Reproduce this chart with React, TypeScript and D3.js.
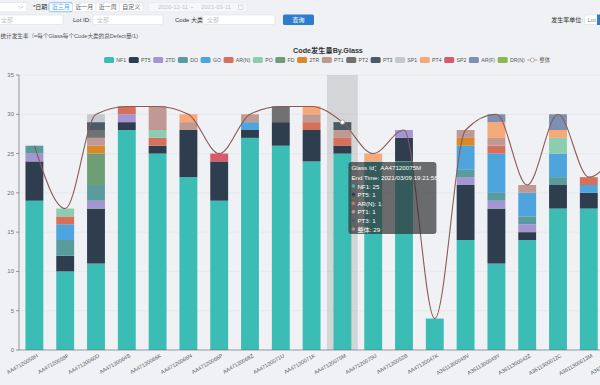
import React, { useEffect, useRef } from "react";
import * as d3 from "d3";

// glass ids on the x axis (last one runs past the right edge)
const glassIds = [
  "AA47120059H", "AA47120059F", "AA47120060D", "AA47120064S", "AA47120066K",
  "AA47120066N", "AA47120066P", "AA47120068Z", "AA47120071U", "AA47120071K",
  "AA47120075M", "AA47120075U", "AA47120052B", "AA47120047K", "A3611300049V",
  "A3611300049Y", "A3611300042Z", "A3611300012C", "A3611300013M", "A3611300014K",
];

const codeNames = ["NF1", "PT5", "2TD", "DO", "GO", "AR(N)", "PO", "FD", "2TR", "PT1", "PT2", "PT3", "SP1", "PT4", "SP2", "AR(F)", "DR(N)"];
const codeColors = ["#3bbdb6", "#2f3e4f", "#a695d3", "#5a9c9d", "#4ea4dd", "#d4705b", "#8ccdb0", "#6d9e76", "#d88a2a", "#c09a92", "#6f7173", "#4c5a68", "#c4c9cf", "#f5a878", "#d75b6a", "#7d8fb3", "#88b84f"];

const nf1 = [19, 10, 11, 28, 25, 22, 19, 27, 26, 24, 25, 24, 24, 4, 14, 11, 14, 18, 18, 20];
const pt5 = [5, 2, 7, 1, 1, 6, 5, 1, 3, 4, 1, 0, 3, 0, 7, 7, 1, 3, 2, 4];
const td2 = [1, 0, 1, 1, 0, 0, 0, 0, 0, 0, 0, 0, 1, 0, 1, 1, 1, 0, 0, 0];
const doV = [1, 2, 2, 0, 0, 0, 0, 0, 0, 0, 0, 0, 0, 0, 1, 1, 1, 1, 0, 0];
const go = [0, 2, 0, 0, 0, 0, 0, 1, 0, 0, 0, 0, 0, 0, 3, 5, 3, 3, 1, 2];
const arN = [0, 1, 0, 1, 1, 0, 0, 0, 0, 1, 1, 0, 0, 0, 0, 1, 0, 0, 1, 0];
const po = [0, 1, 0, 0, 1, 0, 0, 0, 0, 0, 0, 0, 0, 0, 0, 0, 0, 2, 0, 0];
const fd = [0, 0, 4, 0, 0, 0, 0, 0, 0, 0, 0, 0, 0, 0, 0, 0, 0, 0, 0, 0];
const tr2 = [0, 0, 1, 0, 0, 0, 0, 0, 0, 0, 0, 0, 0, 0, 1, 0, 0, 0, 0, 0];
const pt1 = [0, 0, 1, 0, 3, 1, 0, 1, 0, 1, 1, 0, 0, 0, 1, 1, 1, 0, 0, 0];
const pt2 = [0, 0, 1, 0, 0, 0, 0, 0, 2, 0, 0, 0, 0, 0, 0, 0, 0, 0, 0, 0];
const pt3 = [0, 0, 1, 0, 0, 0, 0, 0, 0, 0, 1, 0, 0, 0, 0, 0, 0, 0, 0, 0];
const sp1 = [0, 0, 1, 0, 0, 0, 0, 0, 0, 0, 0, 0, 0, 0, 0, 0, 0, 0, 0, 0];
const pt4 = [0, 0, 0, 0, 0, 1, 0, 0, 0, 1, 0, 1, 0, 0, 0, 2, 0, 1, 0, 0];
const sp2 = [0, 0, 0, 0, 0, 0, 1, 0, 0, 0, 0, 0, 0, 0, 0, 0, 0, 0, 0, 0];
const arF = [0, 0, 0, 0, 0, 0, 0, 0, 0, 0, 0, 0, 0, 0, 0, 1, 0, 2, 0, 0];
const drN = [0, 0, 0, 0, 0, 0, 0, 0, 0, 0, 0, 0, 0, 0, 0, 0, 0, 0, 0, 0];
const codeValues = [nf1, pt5, td2, doV, go, arN, po, fd, tr2, pt1, pt2, pt3, sp1, pt4, sp2, arF, drN];

const yTicks = [0, 5, 10, 15, 20, 25, 30, 35];
const hoverIndex = 10;
const hoverEndTime = "2021/03/09 19:21:56";

const FONT = "'Liberation Sans', 'Noto Sans CJK SC', sans-serif";
const BG = "#eff1f4";
const LINE = "#8b5a55";

const App = () => {
  const svgRef = useRef<SVGSVGElement>(null);

  useEffect(() => {
    const svg = d3.select(svgRef.current);
    svg.selectAll("*").remove();
    svg.append("rect").attr("width", 600).attr("height", 385).attr("fill", BG);

    // ---- filter toolbar ----
    const bar = svg.append("g").attr("font-size", 6).attr("fill", "#606266");
    const box = (x, y, w, h, fill = "#fff", stroke = "#dcdfe6") =>
      bar.append("rect").attr("x", x).attr("y", y).attr("width", w).attr("height", h)
        .attr("rx", 1.5).attr("fill", fill).attr("stroke", stroke).attr("stroke-width", 0.6);
    const label = (x, y, t, color = "#606266", anchor = "start") =>
      bar.append("text").attr("x", x).attr("y", y).attr("fill", color).attr("text-anchor", anchor)
        .attr("dominant-baseline", "central").text(t);

    box(-5, 2.5, 32, 9.5);
    bar.append("path").attr("d", "M18.5,6 L20.8,8.3 L23.1,6").attr("fill", "none").attr("stroke", "#aaa").attr("stroke-width", 0.6);
    label(33, 7.3, "*日期:", "#333");
    const ranges = ["近三月", "近一月", "近一周", "自定义"];
    const rx = d3.scaleBand().domain(ranges).range([49, 143]);
    ranges.forEach((r, i) => {
      box(rx(r), 2.7, rx.bandwidth(), 9, "#fff", i === 0 ? "#409eff" : "#dcdfe6");
      label(rx(r) + rx.bandwidth() / 2, 7.3, r, i === 0 ? "#409eff" : "#606266", "middle");
    });
    box(148, 2.7, 99, 9, "#f5f7fa", "#e4e7ed");
    label(173, 7.3, "2020-12-11", "#c0c4cc", "middle");
    label(192, 7.3, "~", "#c0c4cc", "middle");
    label(216, 7.3, "2021-03-11", "#c0c4cc", "middle");
    bar.append("rect").attr("x", 238.5).attr("y", 5).attr("width", 4.5).attr("height", 4.5).attr("fill", "none").attr("stroke", "#c0c4cc").attr("stroke-width", 0.5);

    box(-5, 15, 68, 9.5);
    label(1, 19.8, "全部", "#c0c4cc");
    label(73, 19.8, "Lot ID:", "#333");
    box(93, 15, 70, 9.5);
    label(97, 19.8, "全部", "#c0c4cc");
    label(175, 19.8, "Code 大类:", "#333");
    box(203, 15, 72, 9.5);
    label(207, 19.8, "全部", "#c0c4cc");
    bar.append("rect").attr("x", 283).attr("y", 14.5).attr("width", 31).attr("height", 10.5).attr("rx", 1.5).attr("fill", "#2e7dcc");
    label(298.5, 19.8, "查询", "#fff", "middle");
    label(583, 19.8, "发生率单位:", "#333", "end");
    box(584.5, 15, 14, 9.5);
    label(587.5, 19.8, "Lot", "#888");
    bar.append("rect").attr("x", 597).attr("y", 14.5).attr("width", 10).attr("height", 10.5).attr("fill", "#2e7dcc");

    svg.append("text").attr("x", 0.5).attr("y", 36).attr("font-size", 5.6).attr("fill", "#555")
      .attr("dominant-baseline", "central")
      .text("统计发生率（=每个Glass每个Code大类的总Defect量/1)");

    // ---- title & legend ----
    svg.append("text").attr("x", 328).attr("y", 50).attr("text-anchor", "middle")
      .attr("dominant-baseline", "central").attr("font-size", 7.2).attr("font-weight", "bold")
      .attr("fill", "#333").text("Code发生量By.Glass");

    const legend = svg.append("g").attr("font-size", 5.2).attr("fill", "#555");
    const items = [...codeNames, "整体"];
    const gap = 2.6;
    let lx = 0;
    const placed = [];
    items.forEach((name, i) => {
      const g = legend.append("g");
      if (i < codeNames.length) {
        g.append("rect").attr("x", 0).attr("y", -3).attr("width", 10).attr("height", 6).attr("rx", 1.5).attr("fill", codeColors[i]);
      } else {
        g.append("line").attr("x1", 0).attr("x2", 10).attr("y1", 0).attr("y2", 0).attr("stroke", "#a09090").attr("stroke-width", 0.8);
        g.append("circle").attr("cx", 5).attr("cy", 0).attr("r", 2).attr("fill", "#fff").attr("stroke", "#a09090").attr("stroke-width", 0.7);
      }
      const t = g.append("text").attr("x", 12.3).attr("y", 0).attr("dominant-baseline", "central").text(name);
      const w = 12.3 + (t.node() as SVGTextElement).getComputedTextLength();
      placed.push([g, lx]);
      lx += w + gap;
    });
    const legendW = lx - gap;
    const lx0 = 327 - legendW / 2;
    placed.forEach(([g, off]) => g.attr("transform", `translate(${lx0 + off},60)`));

    // ---- chart ----
    const x = d3.scaleBand().domain(glassIds).range([19, 19 + 30.8 * glassIds.length]).paddingInner(0.42).paddingOuter(0.21);
    const y = d3.scaleLinear().domain([0, 35]).range([350, 75]);
    const rows = glassIds.map((id, i) => {
      const r = { id };
      codeNames.forEach((c, k) => (r[c] = codeValues[k][i]));
      return r;
    });
    const totals = glassIds.map((_, i) => d3.sum(codeValues, (s) => s[i]));
    const stacked = d3.stack().keys(codeNames)(rows);

    svg.append("g").selectAll("line").data(yTicks.slice(1)).join("line")
      .attr("x1", 19).attr("x2", 600).attr("y1", (d) => y(d)).attr("y2", (d) => y(d))
      .attr("stroke", "#e0e4e9").attr("stroke-width", 0.6);

    // hover shadow
    const step = x.step();
    const hx = x(glassIds[hoverIndex]) + x.bandwidth() / 2;
    svg.append("rect").attr("x", hx - step / 2).attr("y", 75).attr("width", step).attr("height", 275)
      .attr("fill", "rgba(150,150,150,0.3)");

    svg.append("g").selectAll("g").data(stacked).join("g")
      .attr("fill", (d, k) => codeColors[k])
      .selectAll("rect").data((d) => d.filter((s) => s[1] > s[0])).join("rect")
      .attr("x", (d) => x(d.data.id)).attr("width", x.bandwidth())
      .attr("y", (d) => y(d[1])).attr("height", (d) => y(d[0]) - y(d[1]));

    // axes
    const yAxis = svg.append("g").attr("font-size", 6).attr("fill", "#6e7079");
    yAxis.append("line").attr("x1", 19).attr("x2", 19).attr("y1", 75).attr("y2", 350).attr("stroke", "#6e7079").attr("stroke-width", 0.7);
    yTicks.forEach((t) => {
      yAxis.append("line").attr("x1", 16).attr("x2", 19).attr("y1", y(t)).attr("y2", y(t)).attr("stroke", "#6e7079").attr("stroke-width", 0.7);
      yAxis.append("text").attr("x", 14).attr("y", y(t)).attr("text-anchor", "end").attr("dominant-baseline", "central").text(t);
    });
    svg.append("line").attr("x1", 19).attr("x2", 600).attr("y1", 350).attr("y2", 350).attr("stroke", "#6e7079").attr("stroke-width", 0.7);
    svg.append("g").selectAll("text").data(glassIds).join("text")
      .attr("font-size", 5.4).attr("fill", "#555").attr("text-anchor", "end")
      .attr("transform", (d) => `translate(${x(d) + x.bandwidth() / 2 + 3},355) rotate(-30)`)
      .attr("dominant-baseline", "central").text((d) => d);

    // total line
    const line = d3.line<number>().x((_, i) => x(glassIds[i]) + x.bandwidth() / 2).y((d) => y(d)).curve(d3.curveMonotoneX);
    svg.append("path").attr("d", line(totals)).attr("fill", "none").attr("stroke", LINE).attr("stroke-width", 1.1);
    svg.append("circle").attr("cx", hx).attr("cy", y(totals[hoverIndex])).attr("r", 2.2)
      .attr("fill", "#fff").attr("stroke", "#999").attr("stroke-width", 0.8);

    // tooltip
    const tip = svg.append("g").attr("transform", `translate(${hx + 6},162)`).attr("font-size", 6.2).attr("fill", "#fff");
    tip.append("rect").attr("width", 88).attr("height", 72).attr("rx", 3).attr("fill", "rgba(50,50,50,0.7)");
    tip.append("text").attr("x", 3).attr("y", 5.5).attr("dominant-baseline", "central").text(`Glass Id：${glassIds[hoverIndex]}`);
    tip.append("text").attr("x", 3).attr("y", 15).attr("dominant-baseline", "central").text(`End Time: ${hoverEndTime}`);
    const tipRows = codeNames.map((c, k) => [c, codeValues[k][hoverIndex], codeColors[k]]).filter((r) => r[1] > 0);
    tipRows.push(["整体", totals[hoverIndex], "#a09090"]);
    tipRows.forEach(([name, v, color], j) => {
      const ty = 24 + j * 8.6;
      tip.append("circle").attr("cx", 5).attr("cy", ty).attr("r", 1.8).attr("fill", color);
      tip.append("text").attr("x", 9).attr("y", ty).attr("dominant-baseline", "central").text(`${name}: ${v}`);
    });
  }, []);

  return (
    <svg
      ref={svgRef}
      width={600}
      height={385}
      style={{ position: "absolute", left: 0, top: 0, fontFamily: FONT }}
    />
  );
};

export default App;
